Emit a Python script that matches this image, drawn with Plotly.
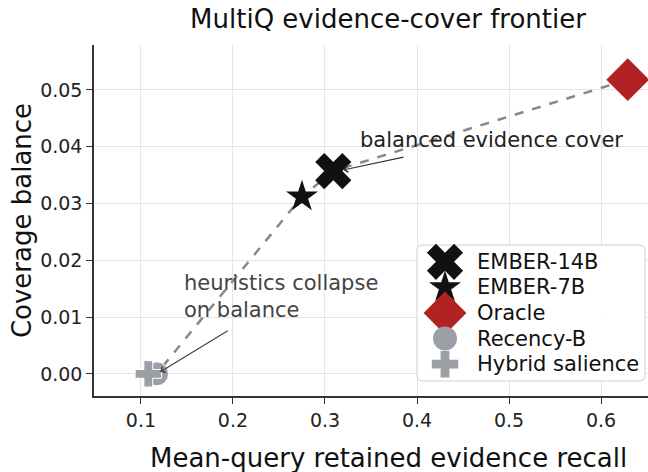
import numpy as np
import plotly.graph_objects as go

methods = ["EMBER-14B", "EMBER-7B", "Oracle", "Recency-B", "Hybrid salience"]
recall = [0.309, 0.275, 0.629, 0.117, 0.108]
balance = [0.0357, 0.0312, 0.0518, 0.0, 0.0]
symbols = ["x", "star", "diamond", "circle", "cross"]
colors = ["#111111", "#111111", "#b22222", "#9aa0a6", "#9aa0a6"]
sizes = [32, 24, 33, 24, 22]
edge_w = [0, 0, 0, 1, 1]

x_ticks = [0.1, 0.2, 0.3, 0.4, 0.5, 0.6]
y_ticks = [0.0, 0.01, 0.02, 0.03, 0.04, 0.05]

W, H = 648, 472
ML, MR, MT, MB = 94, 0, 45, 76

# frontier order (sorted by recall)
order = sorted(range(len(methods)), key=lambda i: recall[i])
fx = [recall[i] for i in order]
fy = [balance[i] for i in order]

fig = go.Figure()
fig.add_trace(go.Scatter(x=fx, y=fy, mode="lines", showlegend=False,
                         line=dict(color="#888888", width=2.5, dash="dash"),
                         hoverinfo="skip"))
for i, m in enumerate(methods):
    fig.add_trace(go.Scatter(x=[recall[i]], y=[balance[i]], mode="markers", name=m,
                             showlegend=False,
                             marker=dict(symbol=symbols[i], color=colors[i], size=sizes[i],
                                         line=dict(width=edge_w[i], color="white"))))

# ---- custom legend drawn in an overlay axis measured in pixels ----
lg_left, lg_right, lg_top, lg_bot, rad = 417, 645, 245, 381, 5
t = np.linspace(0, np.pi / 2, 8)
bx, by = [], []
for cx, cy, a0 in [(lg_right - rad, lg_top + rad, -np.pi / 2), (lg_right - rad, lg_bot - rad, 0),
                   (lg_left + rad, lg_bot - rad, np.pi / 2), (lg_left + rad, lg_top + rad, np.pi)]:
    bx += list(cx + rad * np.cos(a0 + t))
    by += list(cy + rad * np.sin(a0 + t))
bx.append(bx[0]); by.append(by[0])
fig.add_trace(go.Scatter(x=bx, y=by, xaxis="x2", yaxis="y2", mode="lines", fill="toself",
                         fillcolor="rgba(255,255,255,0.95)", line=dict(color="#d0d0d0", width=1),
                         showlegend=False, hoverinfo="skip"))
row_h = (lg_bot - lg_top - 8) / len(methods)
for i, m in enumerate(methods):
    yc = lg_top + 4 + (i + 0.5) * row_h
    fig.add_trace(go.Scatter(x=[445], y=[yc], xaxis="x2", yaxis="y2", mode="markers",
                             marker=dict(symbol=symbols[i], color=colors[i], size=sizes[i],
                                         line=dict(width=0)),
                             showlegend=False, hoverinfo="skip"))
    fig.add_annotation(x=475, y=yc, xref="x2", yref="y2", text=m, showarrow=False,
                       xanchor="left", yanchor="middle", font=dict(size=21, color="#111111"))

fig.add_annotation(x=0.320, y=0.0359, ax=0.387, ay=0.0382, axref="x", ayref="y",
                   xref="x", yref="y", text="", showarrow=True, arrowhead=4,
                   arrowsize=1.1, arrowwidth=1.2, arrowcolor="#333333")
fig.add_annotation(x=0.336, y=0.0412, xref="x", yref="y", text="balanced evidence cover",
                   showarrow=False, xanchor="left", yanchor="middle",
                   font=dict(size=21, color="#222222"))
fig.add_annotation(x=0.121, y=0.00035, ax=0.196, ay=0.00775, axref="x", ayref="y",
                   xref="x", yref="y", text="", showarrow=True, arrowhead=4,
                   arrowsize=1.1, arrowwidth=1.2, arrowcolor="#444444")
fig.add_annotation(x=0.1446, y=0.01356, xref="x", yref="y",
                   text="heuristics collapse<br>on balance",
                   showarrow=False, xanchor="left", yanchor="middle", align="left",
                   font=dict(size=21, color="#444444"))

# x-axis title (centred on the full axes, which run past the right edge in the reference)
fig.add_annotation(x=(388 - ML) / (W - ML - MR), y=(H - MB - 458) / (H - MT - MB),
                   xref="paper", yref="paper", text="Mean-query retained evidence recall",
                   showarrow=False, xanchor="center", yanchor="middle",
                   font=dict(size=26, color="#111111"))

font_family = "DejaVu Sans"
fig.update_layout(
    width=W, height=H,
    margin=dict(l=ML, r=MR, t=MT, b=MB),
    paper_bgcolor="white", plot_bgcolor="white",
    font=dict(family=font_family, color="#111111"),
    title=dict(text="MultiQ evidence-cover frontier", xref="container", x=388 / W, xanchor="center",
               y=1 - 19 / H, yanchor="middle", font=dict(size=26, color="#111111")),
    showlegend=False,
    xaxis2=dict(overlaying="x", range=[ML, W - MR], visible=False, fixedrange=True),
    yaxis2=dict(overlaying="y", range=[H - MB, MT], visible=False, fixedrange=True),
    xaxis=dict(range=[0.049, 0.651], tickvals=x_ticks, ticktext=[f"{v:.1f}" for v in x_ticks],
               showgrid=True, gridcolor="#e3e5ea", gridwidth=1,
               showline=True, linecolor="#333333", linewidth=1.5,
               ticks="outside", ticklen=6, tickwidth=1.2, tickcolor="#333333",
               tickfont=dict(size=19, color="#222222"), zeroline=False, automargin=False),
    yaxis=dict(range=[-0.0039, 0.0579], tickvals=y_ticks, ticktext=[f"{v:.2f}" for v in y_ticks],
               showgrid=True, gridcolor="#e3e5ea", gridwidth=1,
               showline=True, linecolor="#333333", linewidth=1.5,
               ticks="outside", ticklen=6, tickwidth=1.2, tickcolor="#333333",
               tickfont=dict(size=19, color="#222222"), zeroline=False, automargin=False,
               title=dict(text="Coverage balance", font=dict(size=26), standoff=1)),
)

fig.write_html("out.html", config={"displayModeBar": False},
               post_script="document.body.style.margin='0';")
